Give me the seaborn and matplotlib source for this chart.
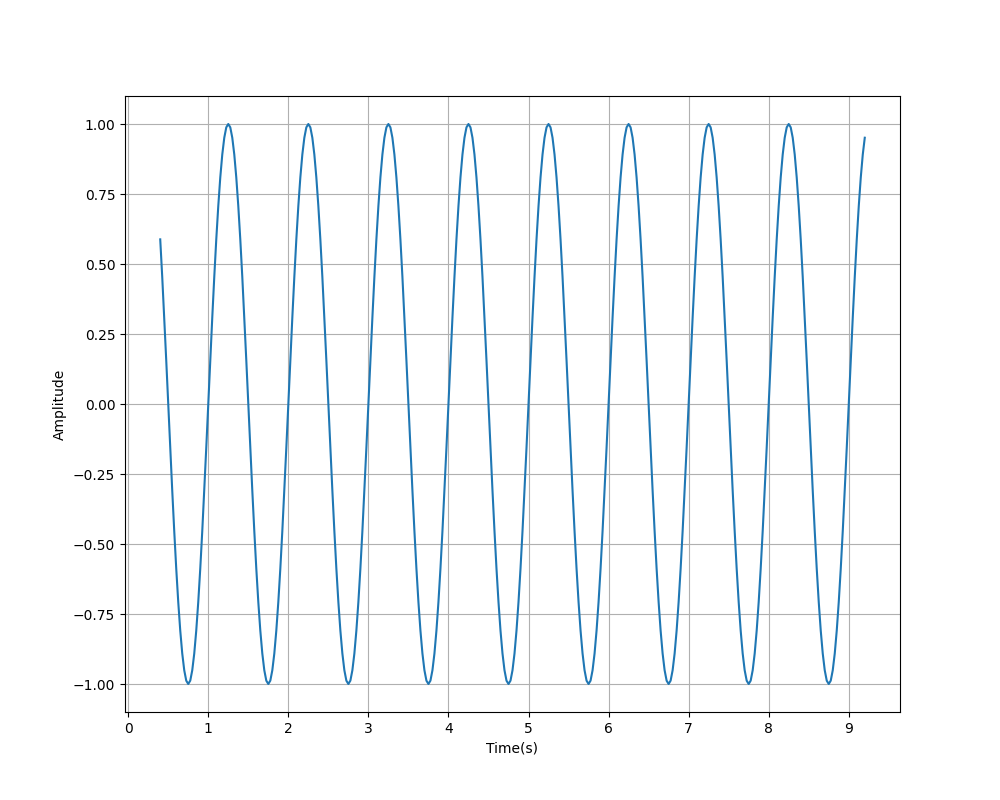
import matplotlib
matplotlib.use("Agg")
import matplotlib.pyplot as plt
from matplotlib.ticker import MultipleLocator
import seaborn as sns
import pandas as pd

time_s = [
    0.400, 0.425, 0.450, 0.475, 0.500, 0.525, 0.550, 0.575, 0.600, 0.625, 0.650, 0.675, 0.700, 0.725, 0.750, 0.775, 0.800, 0.825, 0.850, 0.875,
    0.900, 0.925, 0.950, 0.975, 1.000, 1.025, 1.050, 1.075, 1.100, 1.125, 1.150, 1.175, 1.200, 1.225, 1.250, 1.275, 1.300, 1.325, 1.350, 1.375,
    1.400, 1.425, 1.450, 1.475, 1.500, 1.525, 1.550, 1.575, 1.600, 1.625, 1.650, 1.675, 1.700, 1.725, 1.750, 1.775, 1.800, 1.825, 1.850, 1.875,
    1.900, 1.925, 1.950, 1.975, 2.000, 2.025, 2.050, 2.075, 2.100, 2.125, 2.150, 2.175, 2.200, 2.225, 2.250, 2.275, 2.300, 2.325, 2.350, 2.375,
    2.400, 2.425, 2.450, 2.475, 2.500, 2.525, 2.550, 2.575, 2.600, 2.625, 2.650, 2.675, 2.700, 2.725, 2.750, 2.775, 2.800, 2.825, 2.850, 2.875,
    2.900, 2.925, 2.950, 2.975, 3.000, 3.025, 3.050, 3.075, 3.100, 3.125, 3.150, 3.175, 3.200, 3.225, 3.250, 3.275, 3.300, 3.325, 3.350, 3.375,
    3.400, 3.425, 3.450, 3.475, 3.500, 3.525, 3.550, 3.575, 3.600, 3.625, 3.650, 3.675, 3.700, 3.725, 3.750, 3.775, 3.800, 3.825, 3.850, 3.875,
    3.900, 3.925, 3.950, 3.975, 4.000, 4.025, 4.050, 4.075, 4.100, 4.125, 4.150, 4.175, 4.200, 4.225, 4.250, 4.275, 4.300, 4.325, 4.350, 4.375,
    4.400, 4.425, 4.450, 4.475, 4.500, 4.525, 4.550, 4.575, 4.600, 4.625, 4.650, 4.675, 4.700, 4.725, 4.750, 4.775, 4.800, 4.825, 4.850, 4.875,
    4.900, 4.925, 4.950, 4.975, 5.000, 5.025, 5.050, 5.075, 5.100, 5.125, 5.150, 5.175, 5.200, 5.225, 5.250, 5.275, 5.300, 5.325, 5.350, 5.375,
    5.400, 5.425, 5.450, 5.475, 5.500, 5.525, 5.550, 5.575, 5.600, 5.625, 5.650, 5.675, 5.700, 5.725, 5.750, 5.775, 5.800, 5.825, 5.850, 5.875,
    5.900, 5.925, 5.950, 5.975, 6.000, 6.025, 6.050, 6.075, 6.100, 6.125, 6.150, 6.175, 6.200, 6.225, 6.250, 6.275, 6.300, 6.325, 6.350, 6.375,
    6.400, 6.425, 6.450, 6.475, 6.500, 6.525, 6.550, 6.575, 6.600, 6.625, 6.650, 6.675, 6.700, 6.725, 6.750, 6.775, 6.800, 6.825, 6.850, 6.875,
    6.900, 6.925, 6.950, 6.975, 7.000, 7.025, 7.050, 7.075, 7.100, 7.125, 7.150, 7.175, 7.200, 7.225, 7.250, 7.275, 7.300, 7.325, 7.350, 7.375,
    7.400, 7.425, 7.450, 7.475, 7.500, 7.525, 7.550, 7.575, 7.600, 7.625, 7.650, 7.675, 7.700, 7.725, 7.750, 7.775, 7.800, 7.825, 7.850, 7.875,
    7.900, 7.925, 7.950, 7.975, 8.000, 8.025, 8.050, 8.075, 8.100, 8.125, 8.150, 8.175, 8.200, 8.225, 8.250, 8.275, 8.300, 8.325, 8.350, 8.375,
    8.400, 8.425, 8.450, 8.475, 8.500, 8.525, 8.550, 8.575, 8.600, 8.625, 8.650, 8.675, 8.700, 8.725, 8.750, 8.775, 8.800, 8.825, 8.850, 8.875,
    8.900, 8.925, 8.950, 8.975, 9.000, 9.025, 9.050, 9.075, 9.100, 9.125, 9.150, 9.175, 9.200,
]

amplitude = [
    0.588, 0.454, 0.309, 0.156, 0.000, -0.156, -0.309, -0.454, -0.588, -0.707, -0.809, -0.891, -0.951, -0.988, -1.000, -0.988, -0.951, -0.891, -0.809, -0.707,
    -0.588, -0.454, -0.309, -0.156, 0.000, 0.156, 0.309, 0.454, 0.588, 0.707, 0.809, 0.891, 0.951, 0.988, 1.000, 0.988, 0.951, 0.891, 0.809, 0.707,
    0.588, 0.454, 0.309, 0.156, 0.000, -0.156, -0.309, -0.454, -0.588, -0.707, -0.809, -0.891, -0.951, -0.988, -1.000, -0.988, -0.951, -0.891, -0.809, -0.707,
    -0.588, -0.454, -0.309, -0.156, 0.000, 0.156, 0.309, 0.454, 0.588, 0.707, 0.809, 0.891, 0.951, 0.988, 1.000, 0.988, 0.951, 0.891, 0.809, 0.707,
    0.588, 0.454, 0.309, 0.156, 0.000, -0.156, -0.309, -0.454, -0.588, -0.707, -0.809, -0.891, -0.951, -0.988, -1.000, -0.988, -0.951, -0.891, -0.809, -0.707,
    -0.588, -0.454, -0.309, -0.156, 0.000, 0.156, 0.309, 0.454, 0.588, 0.707, 0.809, 0.891, 0.951, 0.988, 1.000, 0.988, 0.951, 0.891, 0.809, 0.707,
    0.588, 0.454, 0.309, 0.156, 0.000, -0.156, -0.309, -0.454, -0.588, -0.707, -0.809, -0.891, -0.951, -0.988, -1.000, -0.988, -0.951, -0.891, -0.809, -0.707,
    -0.588, -0.454, -0.309, -0.156, 0.000, 0.156, 0.309, 0.454, 0.588, 0.707, 0.809, 0.891, 0.951, 0.988, 1.000, 0.988, 0.951, 0.891, 0.809, 0.707,
    0.588, 0.454, 0.309, 0.156, 0.000, -0.156, -0.309, -0.454, -0.588, -0.707, -0.809, -0.891, -0.951, -0.988, -1.000, -0.988, -0.951, -0.891, -0.809, -0.707,
    -0.588, -0.454, -0.309, -0.156, 0.000, 0.156, 0.309, 0.454, 0.588, 0.707, 0.809, 0.891, 0.951, 0.988, 1.000, 0.988, 0.951, 0.891, 0.809, 0.707,
    0.588, 0.454, 0.309, 0.156, 0.000, -0.156, -0.309, -0.454, -0.588, -0.707, -0.809, -0.891, -0.951, -0.988, -1.000, -0.988, -0.951, -0.891, -0.809, -0.707,
    -0.588, -0.454, -0.309, -0.156, 0.000, 0.156, 0.309, 0.454, 0.588, 0.707, 0.809, 0.891, 0.951, 0.988, 1.000, 0.988, 0.951, 0.891, 0.809, 0.707,
    0.588, 0.454, 0.309, 0.156, 0.000, -0.156, -0.309, -0.454, -0.588, -0.707, -0.809, -0.891, -0.951, -0.988, -1.000, -0.988, -0.951, -0.891, -0.809, -0.707,
    -0.588, -0.454, -0.309, -0.156, 0.000, 0.156, 0.309, 0.454, 0.588, 0.707, 0.809, 0.891, 0.951, 0.988, 1.000, 0.988, 0.951, 0.891, 0.809, 0.707,
    0.588, 0.454, 0.309, 0.156, 0.000, -0.156, -0.309, -0.454, -0.588, -0.707, -0.809, -0.891, -0.951, -0.988, -1.000, -0.988, -0.951, -0.891, -0.809, -0.707,
    -0.588, -0.454, -0.309, -0.156, 0.000, 0.156, 0.309, 0.454, 0.588, 0.707, 0.809, 0.891, 0.951, 0.988, 1.000, 0.988, 0.951, 0.891, 0.809, 0.707,
    0.588, 0.454, 0.309, 0.156, 0.000, -0.156, -0.309, -0.454, -0.588, -0.707, -0.809, -0.891, -0.951, -0.988, -1.000, -0.988, -0.951, -0.891, -0.809, -0.707,
    -0.588, -0.454, -0.309, -0.156, 0.000, 0.156, 0.309, 0.454, 0.588, 0.707, 0.809, 0.891, 0.951,
]

df = pd.DataFrame({"Time(s)": time_s, "Amplitude": amplitude})

fig, ax = plt.subplots(figsize=(10, 8), dpi=100)
sns.lineplot(data=df, x="Time(s)", y="Amplitude", ax=ax, color="#1f77b4",
             linewidth=1.5, sort=False, estimator=None)
ax.xaxis.set_major_locator(MultipleLocator(1))
ax.grid(True)
ax.set_xlabel("Time(s)")
ax.set_ylabel("Amplitude")
fig.savefig("out.png", dpi=100)
